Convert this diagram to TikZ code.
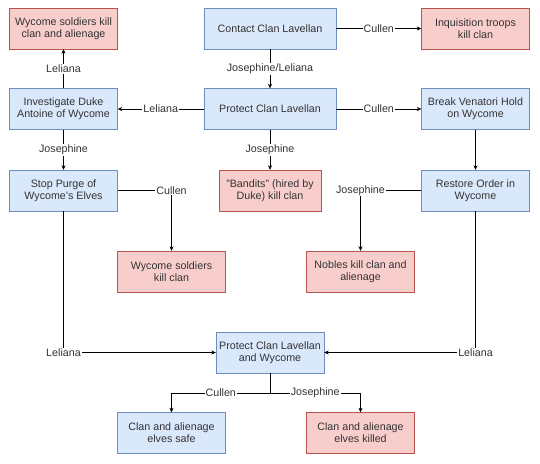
\documentclass[tikz,border=0pt]{standalone}
\usepackage{fontspec}
\setmainfont{Liberation Sans}
\usetikzlibrary{arrows.meta}

\definecolor{goodfill}{HTML}{DAE8FC}
\definecolor{goodline}{HTML}{6C8EBF}
\definecolor{badfill}{HTML}{F8CECC}
\definecolor{badline}{HTML}{B85450}
\definecolor{ink}{HTML}{333333}

\begin{document}
\begin{tikzpicture}[x=1pt, y=-1pt,
    every node/.style={font=\fontsize{10.7}{12.3}\selectfont, text=ink},
    good/.style={draw=goodline, fill=goodfill, minimum width=108pt, minimum height=41pt, align=center, inner sep=2pt},
    bad/.style={draw=badline, fill=badfill, minimum width=108pt, minimum height=41pt, align=center, inner sep=2pt},
    choice/.style={fill=white, inner sep=1pt},
    >={Stealth[length=4.5pt, width=4pt]}]
    \useasboundingbox (0, 0) rectangle (540, 463);

    % left column
    \node[bad]  (wytop)   at (63.5, 28.5)  {Wycome soldiers kill\\clan and alienage};
    \node[good] (invest)  at (63.5, 109)   {Investigate Duke\\Antoine of Wycome};
    \node[good] (purge)   at (63.5, 190.5) {Stop Purge of\\Wycome's Elves};
    % middle column
    \node[good, minimum width=132pt] (contact) at (270, 28.5)  {Contact Clan Lavellan};
    \node[good, minimum width=132pt] (protect) at (270, 109)   {Protect Clan Lavellan};
    \node[bad, minimum width=102pt]  (bandits) at (270, 190.5) {"Bandits" (hired by\\Duke) kill clan};
    % right column
    \node[bad]  (inquis)   at (475.5, 28.5)  {Inquisition troops\\kill clan};
    \node[good] (venatori) at (475.5, 109)   {Break Venatori Hold\\on Wycome};
    \node[good] (restore)  at (475.5, 190.5) {Restore Order in\\Wycome};
    % lower part
    \node[bad]  (wysoldiers) at (171.5, 271.5) {Wycome soldiers\\kill clan};
    \node[bad]  (nobles)     at (360.5, 271.5) {Nobles kill clan and\\alienage};
    \node[good] (protwy)     at (270, 352.5)   {Protect Clan Lavellan\\and Wycome};
    \node[good] (safe)       at (171.5, 433)   {Clan and alienage\\elves safe};
    \node[bad]  (killed)     at (360.5, 433)   {Clan and alienage\\elves killed};
    \coordinate (split) at (270, 393);

    \draw[->] (contact) -- node[choice] {Cullen} (inquis);
    \draw[->] (contact) -- node[choice] {Josephine/Leliana} (protect);
    \draw[->] (protect) -- node[choice] {Leliana} (invest);
    \draw[->] (protect) -- node[choice] {Cullen} (venatori);
    \draw[->] (protect) -- node[choice] {Josephine} (bandits);
    \draw[->] (invest) -- node[choice] {Leliana} (wytop);
    \draw[->] (invest) -- node[choice] {Josephine} (purge);
    \draw[->] (venatori) -- (restore);
    \draw[->] (purge) -| node[choice] {Cullen} (wysoldiers);
    \draw[->] (restore) -| node[choice] {Josephine} (nobles);
    \draw[->] (purge) |- node[choice] {Leliana} (protwy);
    \draw[->] (restore) |- node[choice] {Leliana} (protwy);
    \draw (protwy) -- (split);
    \draw[->] (split) -| node[choice, pos=0.25] {Cullen} (safe);
    \draw[->] (split) -| node[choice, pos=0.25] {Josephine} (killed);
\end{tikzpicture}
\end{document}
